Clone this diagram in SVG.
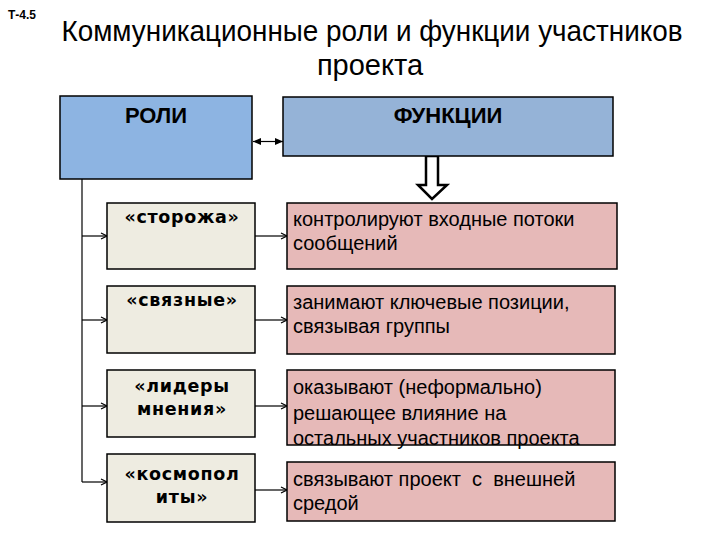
<svg xmlns="http://www.w3.org/2000/svg" width="720" height="540" viewBox="0 0 720 540">
<style>
.box{stroke:#000;stroke-width:1.5}
.roles{fill:#8DB4E2}
.funcs{fill:#95B3D7}
.role{fill:#EEECE1}
.func{fill:#E6B9B8}
.hdr{font-family:"Liberation Sans",Arial,sans-serif;font-weight:bold;font-size:22px;fill:#000}
.rl{font-family:"DejaVu Sans",Verdana,sans-serif;font-weight:bold;font-size:17.5px;letter-spacing:0.7px;fill:#000}
.ft{font-family:"Liberation Sans",Arial,sans-serif;font-size:20px;fill:#000;white-space:pre}
.ln{stroke:#000;stroke-width:1.2;fill:none}
</style>
<defs>
<marker id="open" markerWidth="8" markerHeight="8" refX="7" refY="4" orient="auto" markerUnits="userSpaceOnUse">
<path d="M1,1 L7,4 L1,7" fill="none" stroke="#000" stroke-width="1.2"/>
</marker>
<marker id="fill" markerWidth="9" markerHeight="9" refX="8" refY="4.5" orient="auto-start-reverse" markerUnits="userSpaceOnUse">
<path d="M0,1 L8,4.5 L0,8 Z" fill="#000"/>
</marker>
</defs>
<rect width="720" height="540" fill="#fff"/>
<text x="8" y="19" font-family="Liberation Sans,Arial,sans-serif" font-weight="bold" font-size="12">Т-4.5</text>
<text x="372" y="41" text-anchor="middle" font-family="Liberation Sans,Arial,sans-serif" font-size="29" textLength="621" lengthAdjust="spacingAndGlyphs">Коммуникационные роли и функции участников</text>
<text x="370" y="75" text-anchor="middle" font-family="Liberation Sans,Arial,sans-serif" font-size="29">проекта</text>

<g id="connectors">
<line class="ln" x1="253" y1="141.5" x2="283" y2="141.5" marker-start="url(#fill)" marker-end="url(#fill)"/>
<line class="ln" x1="82" y1="179" x2="82" y2="482"/>
<line class="ln" x1="82" y1="236" x2="107" y2="236" marker-end="url(#open)"/>
<line class="ln" x1="82" y1="320" x2="107" y2="320" marker-end="url(#open)"/>
<line class="ln" x1="82" y1="406" x2="107" y2="406" marker-end="url(#open)"/>
<line class="ln" x1="82" y1="482" x2="107" y2="482" marker-end="url(#open)"/>
<line class="ln" x1="255" y1="236" x2="287" y2="236" marker-end="url(#open)"/>
<line class="ln" x1="255" y1="320" x2="287" y2="320" marker-end="url(#open)"/>
<line class="ln" x1="255" y1="406" x2="287" y2="406" marker-end="url(#open)"/>
<line class="ln" x1="255" y1="490" x2="287" y2="490" marker-end="url(#open)"/>
<path d="M426,156 L438,156 L438,185 L447,185 L432,199 L418,185 L426,185 Z" fill="#fff" stroke="#000" stroke-width="2.5" stroke-linejoin="miter"/>
</g>

<g id="roles">
<rect class="box roles" x="60" y="96" width="192" height="83"/>
<text class="hdr" x="156" y="123" text-anchor="middle">РОЛИ</text>
</g>
<g id="functions">
<rect class="box funcs" x="283" y="97" width="330" height="59"/>
<text class="hdr" x="448" y="123" text-anchor="middle">ФУНКЦИИ</text>
</g>

<g id="role-gatekeepers">
<rect class="box role" x="107" y="203" width="148" height="66"/>
<text class="rl" x="182" y="223" text-anchor="middle">«сторожа»</text>
</g>
<g id="role-liaisons">
<rect class="box role" x="107" y="286" width="148" height="67"/>
<text class="rl" x="182" y="306" text-anchor="middle">«связные»</text>
</g>
<g id="role-leaders">
<rect class="box role" x="107" y="370" width="148" height="67"/>
<text class="rl" x="182" y="392" text-anchor="middle">«лидеры</text>
<text class="rl" x="182" y="415" text-anchor="middle">мнения»</text>
</g>
<g id="role-cosmopolitans">
<rect class="box role" x="107" y="454" width="148" height="68"/>
<text class="rl" x="182" y="480" text-anchor="middle">«космопол</text>
<text class="rl" x="182" y="503" text-anchor="middle">иты»</text>
</g>

<g id="func-1">
<rect class="box func" x="287" y="203" width="330" height="66"/>
<text class="ft" x="293" y="226">контролируют входные потоки</text>
<text class="ft" x="293" y="250">сообщений</text>
</g>
<g id="func-2">
<rect class="box func" x="287" y="286" width="328" height="68"/>
<text class="ft" x="293" y="309">занимают ключевые позиции,</text>
<text class="ft" x="293" y="333">связывая группы</text>
</g>
<g id="func-3">
<rect class="box func" x="287" y="370" width="328" height="75"/>
<text class="ft" x="293" y="394">оказывают (неформально)</text>
<text class="ft" x="293" y="420">решающее влияние на</text>
<text class="ft" x="293" y="445">остальных участников проекта</text>
</g>
<g id="func-4">
<rect class="box func" x="287" y="462" width="328" height="59"/>
<text class="ft" x="293" y="486">связывают проект  с  внешней</text>
<text class="ft" x="293" y="510">средой</text>
</g>
</svg>
